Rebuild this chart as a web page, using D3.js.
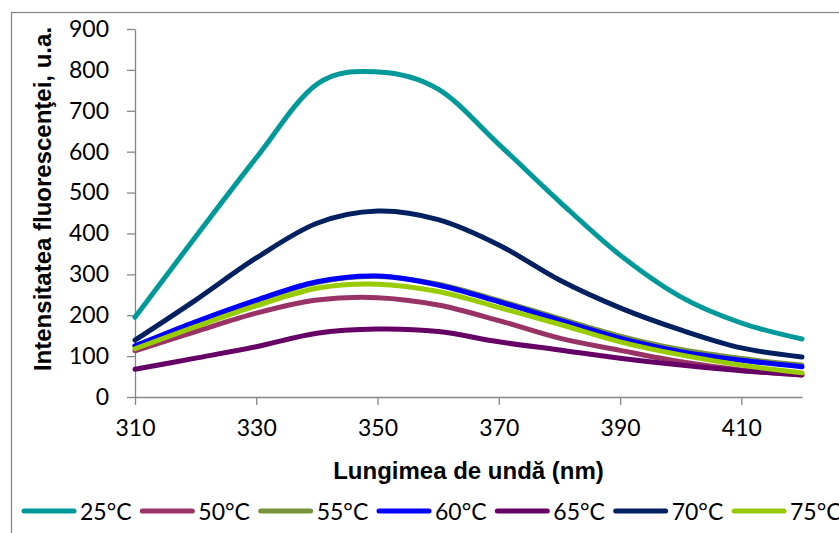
<!doctype html>
<html lang="ro">
<head>
<meta charset="utf-8">
<title>Intensitatea fluorescentei</title>
<script src="https://cdn.jsdelivr.net/npm/d3@7"></script>
<style>
  body { margin: 0; background: #fff; }
  svg { display: block; }
</style>
</head>
<body>
<script>

// wavelengths, nm
var wavelengths = [310, 320, 330, 340, 350, 360, 370, 380, 390, 400, 410, 420];

// intensities, one array per temperature
var t25 = [195, 392, 585, 765, 795, 753, 618, 478, 347, 245, 181, 142];
var t50 = [113, 160, 205, 237, 243, 225, 187, 144, 114, 86, 66, 54];
var t55 = [124, 183, 235, 280, 295, 276, 236, 192, 149, 116, 94, 78];
var t60 = [125, 184, 237, 282, 296, 274, 233, 188, 144, 111, 90, 74];
var t65 = [68, 95, 123, 156, 166, 160, 135, 115, 95, 78, 64, 54];
var t70 = [139, 237, 340, 425, 455, 434, 372, 286, 218, 164, 120, 98];
var t75 = [118, 172, 223, 266, 276, 258, 219, 178, 135, 103, 78, 59];

var seriesNames = ["25°C", "50°C", "55°C", "60°C", "65°C", "70°C", "75°C"];
var seriesValues = [t25, t50, t55, t60, t65, t70, t75];
var seriesColors = ["#009999", "#993366", "#77933C", "#0000FF", "#660066", "#002060", "#99CC00"];

var xTicks = [310, 330, 350, 370, 390, 410];
var yTicks = [0, 100, 200, 300, 400, 500, 600, 700, 800, 900];

var width = 839;
var height = 533;

var plot = { left: 135, right: 802, top: 29, bottom: 397 };

var x = d3.scaleLinear().domain([310, 420]).range([plot.left, plot.right]);
var y = d3.scaleLinear().domain([0, 900]).range([plot.bottom, plot.top]);

var svg = d3.select("body").append("svg")
    .attr("width", width)
    .attr("height", height);

// chart frame (runs off the right and bottom edges)
svg.append("rect")
    .attr("x", 11.5).attr("y", 12.5)
    .attr("width", 840).attr("height", 540)
    .attr("fill", "none")
    .attr("stroke", "#888888")
    .attr("stroke-width", 1.3);

var tickFont = "Lato, 'Open Sans', sans-serif";

// x axis
var gx = svg.append("g")
    .attr("transform", "translate(0," + plot.bottom + ")")
    .call(d3.axisBottom(x).tickValues(xTicks).tickSize(8).tickPadding(15).tickSizeOuter(0));

// y axis
var gy = svg.append("g")
    .attr("transform", "translate(" + plot.left + ",0)")
    .call(d3.axisLeft(y).tickValues(yTicks).tickSize(8).tickPadding(18).tickSizeOuter(0));

[gx, gy].forEach(function(g){
    g.select(".domain").attr("stroke", "#868686").attr("stroke-width", 1.3);
    g.selectAll(".tick line").attr("stroke", "#868686").attr("stroke-width", 1.3);
    g.selectAll(".tick text")
        .attr("fill", "#000")
        .style("font-family", tickFont)
        .style("font-size", "23px");
});

// axis titles
svg.append("text")
    .attr("x", (plot.left + plot.right) / 2)
    .attr("y", 479)
    .attr("text-anchor", "middle")
    .style("font-family", "'Liberation Sans', Arial, sans-serif")
    .style("font-weight", "bold")
    .style("font-size", "24px")
    .text("Lungimea de undă (nm)");

svg.append("text")
    .attr("transform", "translate(51,199) rotate(-90)")
    .attr("text-anchor", "middle")
    .style("font-family", "'Liberation Sans', Arial, sans-serif")
    .style("font-weight", "bold")
    .style("font-size", "24px")
    .text("Intensitatea fluorescenţei, u.a.");

// smoothed lines, like the spreadsheet's "smoothed line" option
var line = d3.line()
    .x(function(d, i){ return x(wavelengths[i]); })
    .y(function(d){ return y(d); })
    .curve(d3.curveCardinal.tension(0));

svg.append("g").selectAll("path")
    .data(seriesValues)
    .join("path")
    .attr("d", line)
    .attr("fill", "none")
    .attr("stroke", function(d, i){ return seriesColors[i]; })
    .attr("stroke-width", 5)
    .attr("stroke-linejoin", "round")
    .attr("stroke-linecap", "round");

// legend
var legendX = d3.scalePoint().domain(seriesNames).range([22, 732]);

var legend = svg.append("g").selectAll("g")
    .data(seriesNames)
    .join("g")
    .attr("transform", function(d){ return "translate(" + legendX(d) + ",511)"; });

legend.append("line")
    .attr("x1", 2).attr("x2", 52)
    .attr("stroke", function(d, i){ return seriesColors[i]; })
    .attr("stroke-width", 5)
    .attr("stroke-linecap", "round");

legend.append("text")
    .attr("x", 58)
    .attr("y", 9)
    .style("font-family", tickFont)
    .style("font-size", "23px")
    .text(function(d){ return d; });

</script>
</body>
</html>
